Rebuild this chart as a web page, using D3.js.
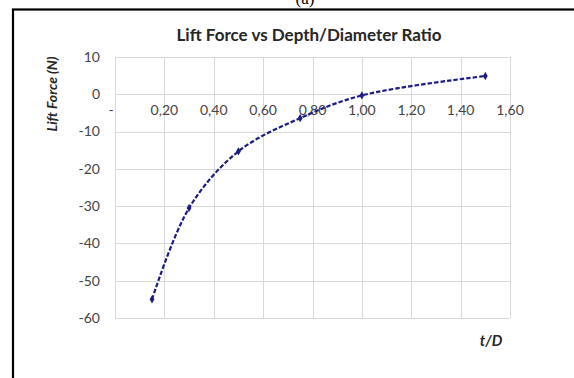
<!DOCTYPE html>
<html>
<head>
<meta charset="utf-8">
<script src="https://cdn.jsdelivr.net/npm/d3@7"></script>
<style>
  body { margin: 0; background: #fff; }
  svg { display: block; font-family: Lato, "Open Sans", sans-serif; }
</style>
</head>
<body>
<div id="chart"></div>
<script>
// values
var ratio = [0.15, 0.30, 0.50, 0.75, 1.00, 1.50];
var lift = [-55, -30.5, -15.3, -6.4, -0.3, 4.9];
var xTicks = [0, 0.2, 0.4, 0.6, 0.8, 1.0, 1.2, 1.4, 1.6];
var yTicks = [-60, -50, -40, -30, -20, -10, 0, 10];

var svg = d3.select('#chart').append('svg')
    .attr('width', 574)
    .attr('height', 378);

// figure label, cut by the top edge as in the scan
svg.append('text')
    .attr('x', 305)
    .attr('y', 4)
    .attr('text-anchor', 'middle')
    .attr('font-family', '"Liberation Serif", serif')
    .attr('font-size', 17)
    .attr('fill', '#000')
    .text('(a)');

// chart frame
svg.append('rect')
    .attr('x', 13)
    .attr('y', 9.5)
    .attr('width', 600)
    .attr('height', 400)
    .attr('fill', '#fff')
    .attr('stroke', '#000')
    .attr('stroke-width', 2.2);

var x = d3.scaleLinear().domain([0, 1.6]).range([115, 510]);
var y = d3.scaleLinear().domain([-60, 10]).range([318, 57]);

// grid
svg.append('g').selectAll('line')
    .data(yTicks)
    .enter()
    .append('line')
    .attr('x1', x(0))
    .attr('x2', x(1.6))
    .attr('y1', function(d) { return Math.round(y(d)) + 0.5; })
    .attr('y2', function(d) { return Math.round(y(d)) + 0.5; })
    .attr('stroke', '#d9d9d9')
    .attr('stroke-width', 1);

svg.append('g').selectAll('line')
    .data(xTicks)
    .enter()
    .append('line')
    .attr('x1', function(d) { return Math.round(x(d)) + 0.5; })
    .attr('x2', function(d) { return Math.round(x(d)) + 0.5; })
    .attr('y1', y(10))
    .attr('y2', y(-60))
    .attr('stroke', '#d9d9d9')
    .attr('stroke-width', 1);

// y tick labels
svg.append('g').selectAll('text')
    .data(yTicks)
    .enter()
    .append('text')
    .attr('x', 100)
    .attr('y', function(d) { return y(d); })
    .attr('dy', '0.35em')
    .attr('text-anchor', 'end')
    .attr('font-size', 14)
    .attr('fill', '#444')
    .text(function(d) { return d; });

// x tick labels sit just under the zero line
svg.append('g').selectAll('text')
    .data(xTicks)
    .enter()
    .append('text')
    .attr('x', function(d) { return d === 0 ? x(d) - 4 : x(d); })
    .attr('y', y(0) + 21)
    .attr('text-anchor', 'middle')
    .attr('font-size', 14)
    .attr('fill', '#444')
    .text(function(d) { return d === 0 ? '-' : d3.format('.2f')(d).replace('.', ','); });

// series
var line = d3.line()
    .x(function(d, i) { return x(ratio[i]); })
    .y(function(d) { return y(d); })
    .curve(d3.curveCatmullRom);

svg.append('path')
    .attr('d', line(lift))
    .attr('fill', 'none')
    .attr('stroke', '#1c1c84')
    .attr('stroke-width', 2.2)
    .attr('stroke-dasharray', '4.5,2');

svg.append('g').selectAll('path')
    .data(lift)
    .enter()
    .append('path')
    .attr('d', d3.symbol().type(d3.symbolDiamond).size(20))
    .attr('transform', function(d, i) { return 'translate(' + x(ratio[i]) + ',' + y(d) + ')'; })
    .attr('fill', '#1c1c84');

// titles
svg.append('text')
    .attr('x', 309)
    .attr('y', 41)
    .attr('text-anchor', 'middle')
    .attr('font-size', 17)
    .attr('font-weight', 'bold')
    .attr('fill', '#262626')
    .text('Lift Force vs Depth/Diameter Ratio');

svg.append('text')
    .attr('transform', 'translate(57,94) rotate(-90)')
    .attr('text-anchor', 'middle')
    .attr('font-size', 14)
    .attr('font-weight', 'bold')
    .attr('font-style', 'italic')
    .attr('fill', '#262626')
    .text('Lift Force (N)');

svg.append('text')
    .attr('x', 491)
    .attr('y', 346)
    .attr('text-anchor', 'middle')
    .attr('font-size', 15)
    .attr('font-weight', 'bold')
    .attr('font-style', 'italic')
    .attr('fill', '#262626')
    .text('t/D');
</script>
</body>
</html>
